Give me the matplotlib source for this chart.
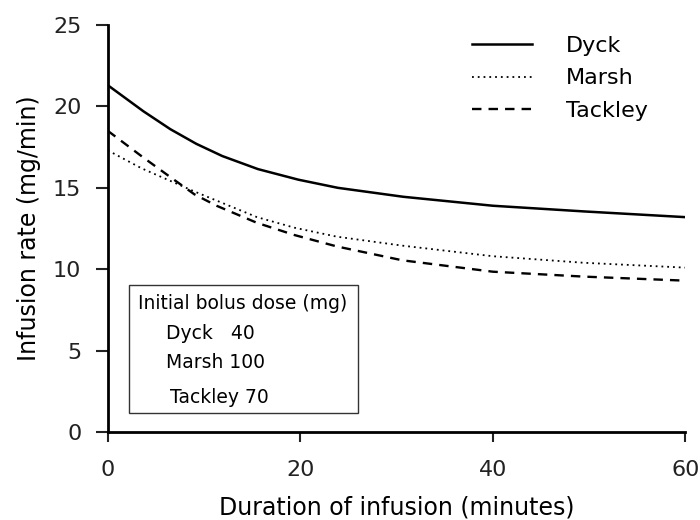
import matplotlib.pyplot as plt
from matplotlib.patches import Rectangle

# infusion rate curves (minutes, mg/min)
dyck_t = [0, 3.7, 6.5, 9.2, 11.9, 15.6, 19.8, 23.9, 30.7, 40, 49.5, 60]
dyck_rate = [21.3, 19.7, 18.6, 17.7, 16.95, 16.15, 15.5, 15.0, 14.45, 13.9, 13.55, 13.2]

marsh_t = [0, 3.5, 6.4, 9.1, 15.5, 19.4, 23.8, 30.6, 40, 49.4, 60]
marsh_rate = [17.3, 16.2, 15.45, 14.75, 13.2, 12.55, 12.0, 11.45, 10.8, 10.4, 10.1]

tackley_t = [0, 3.6, 6.4, 9.0, 11.3, 15.5, 19.4, 23.8, 30.6, 40, 49.4, 60]
tackley_rate = [18.5, 16.9, 15.7, 14.6, 13.9, 12.85, 12.1, 11.4, 10.55, 9.85, 9.55, 9.3]

bolus_names = ['Dyck   40', 'Marsh 100', 'Tackley 70']

plt.rcParams['font.family'] = 'DejaVu Sans'

fig = plt.figure(figsize=(7, 5.2), dpi=100)
ax = fig.add_axes([0.154, 0.169, 0.825, 0.783])

ax.plot(dyck_t, dyck_rate, color='black', lw=1.8, label='Dyck')
ax.plot(marsh_t, marsh_rate, color='black', lw=1.3, linestyle=(0, (1, 2.2)), label='Marsh')
ax.plot(tackley_t, tackley_rate, color='black', lw=1.7, linestyle=(0, (4, 3)), label='Tackley')

ax.set_xlim(0, 60)
ax.set_ylim(0, 25)
ax.set_xticks([0, 20, 40, 60])
ax.set_yticks([0, 5, 10, 15, 20, 25])
ax.spines['top'].set_visible(False)
ax.spines['right'].set_visible(False)
ax.spines['left'].set_linewidth(2)
ax.spines['bottom'].set_linewidth(2)
ax.tick_params(axis='y', length=9, width=1.5, pad=10, labelsize=16, colors='#222222')
ax.tick_params(axis='x', length=7, width=1.5, pad=13, labelsize=16, colors='#222222')

ax.set_xlabel('Duration of infusion (minutes)', fontsize=17, labelpad=11)
ax.set_ylabel('Infusion rate (mg/min)', fontsize=17, labelpad=9)

ax.legend(loc='upper left', bbox_to_anchor=(0.659, 0.952), bbox_transform=fig.transFigure,
          frameon=False, fontsize=16, handlelength=2.7, handletextpad=1.5,
          labelspacing=0.55, borderpad=0)

# box with initial bolus doses
ax.add_patch(Rectangle((0.036, 0.047), 0.397, 0.314, transform=ax.transAxes,
                       fill=False, lw=1, edgecolor='#333333'))
ax.text(0.052, 0.317, 'Initial bolus dose (mg)', transform=ax.transAxes,
        fontsize=13.5, va='center')
ys = [0.243, 0.170, 0.086]
xs = [0.10, 0.10, 0.107]
for name, x, y in zip(bolus_names, xs, ys):
    ax.text(x, y, name, transform=ax.transAxes, fontsize=13.5, va='center')

fig.savefig('out.png', dpi=100, facecolor='white')
